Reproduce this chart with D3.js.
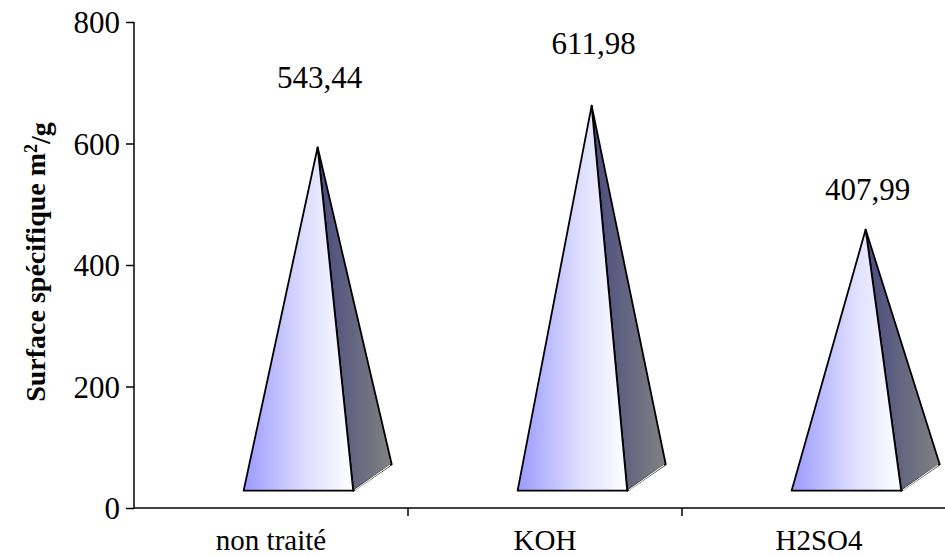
<!DOCTYPE html>
<html>
<head>
<meta charset="utf-8">
<script src="https://cdn.jsdelivr.net/npm/d3@7"></script>
<style>
  html, body { margin: 0; padding: 0; background: #fff; }
</style>
</head>
<body>
<svg id="chart" width="945" height="556"></svg>
<script>
// data
var categories = ["non traité", "KOH", "H2SO4"];
var values = [543.44, 611.98, 407.99];
var valueLabels = ["543,44", "611,98", "407,99"];
var yTicks = [0, 200, 400, 600, 800];

var serif = "'Liberation Serif', 'Times New Roman', serif";
var svg = d3.select("#chart");

var x = d3.scaleBand().domain(categories).range([134, 956]).padding(0);
var y = d3.scaleLinear().domain([0, 800]).range([508, 22]);

// 3d look: pyramids stand on a floor drawn behind the axis
var depth = { dx: 38.5, dy: -26.5 };
var floorLift = 17.3;
var frontW = x.bandwidth() * 0.4;
var frontShift = x.bandwidth() * 0.1;
// label gaps above the apex (hand placed in the original)
var labelGap = [59, 52, 30];

var defs = svg.append("defs");
var gFront = defs.append("linearGradient").attr("id", "gFront")
  .attr("x1", "0%").attr("x2", "100%").attr("y1", "0%").attr("y2", "0%");
gFront.append("stop").attr("offset", "0%").attr("stop-color", "#9a9aff");
gFront.append("stop").attr("offset", "55%").attr("stop-color", "#dcdcff");
gFront.append("stop").attr("offset", "100%").attr("stop-color", "#ffffff");
var gSide = defs.append("linearGradient").attr("id", "gSide")
  .attr("x1", "0%").attr("x2", "100%").attr("y1", "0%").attr("y2", "0%");
gSide.append("stop").attr("offset", "0%").attr("stop-color", "#4a4a80");
gSide.append("stop").attr("offset", "100%").attr("stop-color", "#828282");

var pyr = categories.map(function(c, i) {
  var fl = x(c) + x.bandwidth() / 2 + frontShift - frontW / 2;
  var fr = fl + frontW;
  var by = y(0) - floorLift;
  var ax = (fl + fr) / 2 + depth.dx / 2;
  var ay = by + depth.dy / 2 - (y(0) - y(values[i]));
  return { fl: fl, fr: fr, by: by, ax: ax, ay: ay, i: i };
});

var g = svg.append("g").attr("class", "pyramids");
var line = d3.line();

g.selectAll("path.side").data(pyr).enter().append("path")
  .attr("class", "side")
  .attr("d", function(d) {
    return line([[d.fr, d.by], [d.fr + depth.dx, d.by + depth.dy], [d.ax, d.ay]]) + "Z";
  })
  .attr("fill", "url(#gSide)").attr("stroke", "#000").attr("stroke-width", 1.8)
  .attr("stroke-linejoin", "round");

g.selectAll("path.sidebase").data(pyr).enter().append("path")
  .attr("class", "sidebase")
  .attr("d", function(d) {
    return line([[d.fr + 1.5, d.by - 0.8], [d.fr + depth.dx - 1.5, d.by + depth.dy + 0.8]]);
  })
  .attr("stroke", "#f4f4f4").attr("stroke-width", 1.2);

g.selectAll("path.front").data(pyr).enter().append("path")
  .attr("class", "front")
  .attr("d", function(d) {
    return line([[d.fl, d.by], [d.fr, d.by], [d.ax, d.ay]]) + "Z";
  })
  .attr("fill", "url(#gFront)").attr("stroke", "#000").attr("stroke-width", 1.8)
  .attr("stroke-linejoin", "round");

// value labels
g.selectAll("text.val").data(pyr).enter().append("text")
  .attr("class", "val")
  .attr("x", function(d) { return d.ax + 2; })
  .attr("y", function(d) { return d.ay - labelGap[d.i]; })
  .attr("text-anchor", "middle")
  .style("font-family", serif)
  .style("font-size", "31px")
  .text(function(d) { return valueLabels[d.i]; });

// y axis
var yAxis = svg.append("g").attr("transform", "translate(134,0)")
  .call(d3.axisLeft(y).tickValues(yTicks).tickSize(8).tickPadding(6).tickFormat(d3.format("d")));
yAxis.select(".domain").attr("stroke", "#000").attr("stroke-width", 1.5)
  .attr("d", "M0," + y(800) + "V" + y(0));
yAxis.selectAll(".tick line").attr("stroke", "#000").attr("stroke-width", 1.5);
yAxis.selectAll(".tick text").attr("dy", "0.34em").attr("fill", "#000")
  .style("font-family", serif).style("font-size", "31px");

// x axis with ticks between categories
var xAxis = svg.append("g");
xAxis.append("line").attr("x1", x.range()[0]).attr("x2", x.range()[1])
  .attr("y1", y(0)).attr("y2", y(0)).attr("stroke", "#000").attr("stroke-width", 1.5);
xAxis.selectAll("line.tk").data(categories.slice(1)).enter().append("line")
  .attr("class", "tk")
  .attr("x1", function(d) { return x(d); }).attr("x2", function(d) { return x(d); })
  .attr("y1", y(0)).attr("y2", y(0) + 8).attr("stroke", "#000").attr("stroke-width", 1.5);
xAxis.selectAll("text").data(categories).enter().append("text")
  .attr("x", function(d) { return x(d) + x.bandwidth() / 2; })
  .attr("y", 550)
  .attr("text-anchor", "middle")
  .style("font-family", serif)
  .style("font-size", "29px")
  .text(function(d) { return d; });

// axis title
var title = svg.append("text")
  .attr("transform", "translate(45," + 262 + ") rotate(-90)")
  .attr("text-anchor", "middle")
  .style("font-family", serif)
  .style("font-size", "28px").style("font-weight", "bold");
title.append("tspan").text("Surface spécifique m");
title.append("tspan").attr("dy", "-0.45em").style("font-size", "18px").text("2");
title.append("tspan").attr("dy", "0.45em").text("/g");
</script>
</body>
</html>
